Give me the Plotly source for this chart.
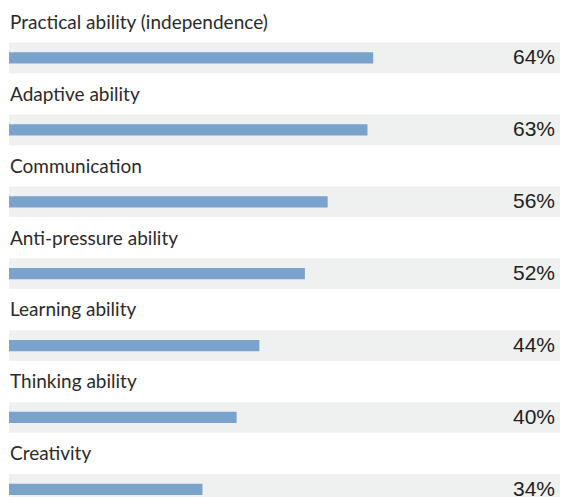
"""
Horizontal bar chart: share of respondents by ability.
"""

import plotly.graph_objects as go

categories = [
    "Practical ability (independence)",
    "Adaptive ability",
    "Communication",
    "Anti-pressure ability",
    "Learning ability",
    "Thinking ability",
    "Creativity",
]
values = [64, 63, 56, 52, 44, 40, 34]
full_scale = [100] * len(categories)

BAR_COLOR = "#79a3cc"
BAND_COLOR = "#eff0f0"
TEXT_COLOR = "#222222"

fig = go.Figure()

# grey background band behind each bar
fig.add_trace(go.Bar(
    x=full_scale,
    y=categories,
    orientation="h",
    width=0.427,
    marker=dict(color=BAND_COLOR, line=dict(width=0)),
    hoverinfo="skip",
))

fig.add_trace(go.Bar(
    x=values,
    y=categories,
    orientation="h",
    width=0.156,
    marker=dict(color=BAR_COLOR, line=dict(width=0)),
    hovertemplate="%{y}: %{x}%<extra></extra>",
))

annotations = []
for i, (cat, val) in enumerate(zip(categories, values)):
    # category label above the band
    annotations.append(dict(
        x=0, xref="x", xanchor="left", xshift=-1,
        y=i - 0.51, yref="y", yanchor="middle",
        text=cat, showarrow=False,
        font=dict(family="Lato, Roboto, sans-serif", size=19, color="#2b2b2b"),
    ))
    # value at the right edge
    annotations.append(dict(
        x=1, xref="paper", xanchor="right", xshift=-11,
        y=i, yref="y", yanchor="middle", yshift=1,
        text=f"{val}%", showarrow=False,
        font=dict(family="Liberation Sans, Arial, sans-serif", size=21, color=TEXT_COLOR),
    ))

# page body adds an 8px margin, so the figure is sized to fit the window
fig.update_layout(
    width=560,
    height=489,
    margin=dict(l=1, r=0, t=0, b=0),
    barmode="overlay",
    showlegend=False,
    paper_bgcolor="white",
    plot_bgcolor="white",
    xaxis=dict(range=[0, 98.24], visible=False, fixedrange=True),
    yaxis=dict(
        type="category",
        categoryorder="array",
        categoryarray=categories,
        range=[6.106, -0.695],
        visible=False,
        fixedrange=True,
    ),
    annotations=annotations,
)

fig.write_html("out.html", config={"displayModeBar": False})
